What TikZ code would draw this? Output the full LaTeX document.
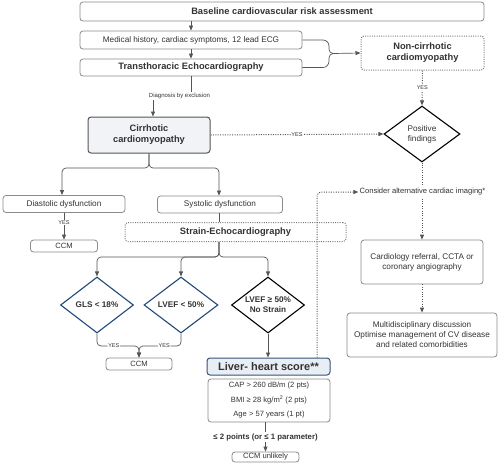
\documentclass[tikz,border=0pt]{standalone}
\usepackage{fontspec}
\setmainfont{Liberation Sans}
\setsansfont{Liberation Sans}
\usetikzlibrary{arrows.meta,shapes.geometric,calc}
\definecolor{txt}{HTML}{333333}
\definecolor{ln}{HTML}{555555}
\definecolor{bd}{HTML}{8A8A8A}
\definecolor{dk}{HTML}{1F4A78}
\definecolor{lfill}{HTML}{E9EEF5}
\definecolor{cfill}{HTML}{F1F3F7}
\tikzset{
  box/.style={draw=bd, line width=0.8pt, rounded corners=3pt, fill=white, text=txt, align=center, inner sep=1pt},
  dotbox/.style={draw=bd!90!black, line width=1pt, dash pattern=on 1pt off 1.3pt, rounded corners=3pt, fill=white, text=txt, align=center, inner sep=1pt},
  dia/.style={diamond, draw, line width=1.1pt, aspect=1.3, fill=white, text=txt, align=center, inner sep=0pt},
  conn/.style={draw=ln, line width=0.7pt, -{Triangle[width=4pt,length=5pt]}},
  plain/.style={draw=ln, line width=0.7pt},
  dconn/.style={draw=ln, line width=1pt, dash pattern=on 1pt off 1.4pt, -{Triangle[width=4pt,length=5pt]}},
  lbl/.style={fill=white, text=txt, inner sep=0.8pt, font=\fontsize{5.5}{6}\selectfont},
  reg/.style={font=\fontsize{8.2}{10}\selectfont},
  bld/.style={font=\fontsize{9.3}{11}\selectfont\bfseries},
  sm/.style={font=\fontsize{7.6}{9}\selectfont},
}
\begin{document}
\begin{tikzpicture}[x=1pt,y=-1pt]
\useasboundingbox (0,0) rectangle (500,464);
% nodes
\node[box, bld, minimum width=404pt, minimum height=19pt] (top) at (282,11.5) {Baseline cardiovascular risk assessment};
\node[box, reg, minimum width=222pt, minimum height=18pt] (med) at (191,40) {Medical history, cardiac symptoms, 12 lead ECG};
\node[box, bld, minimum width=222pt, minimum height=17pt] (tte) at (191,67.5) {Transthoracic Echocardiography};
\node[dotbox, bld, minimum width=123pt, minimum height=34pt] (noncirr) at (422.5,53) {Non-cirrhotic\\cardiomyopathy};
\node[box, bld, draw=ln, line width=1pt, fill=cfill, minimum width=122pt, minimum height=36pt] (cirr) at (149,135) {Cirrhotic\\cardiomyopathy};
\node[dia, reg, draw=black, minimum width=76pt, minimum height=56pt] (pos) at (422,134) {Positive\\findings};
\node[box, reg, minimum width=122pt, minimum height=17pt] (diast) at (64,204) {Diastolic dysfunction};
\node[box, reg, minimum width=125pt, minimum height=17pt] (syst) at (220,204.5) {Systolic dysfunction};
\node[box, sm, minimum width=67pt, minimum height=12pt] (ccma) at (64,246) {CCM};
\node[dotbox, bld, minimum width=221pt, minimum height=19pt] (strain) at (235.5,232) {Strain-Echocardiography};
\node[dia, font=\fontsize{8.2}{10}\selectfont\bfseries, draw=dk, minimum width=73pt, minimum height=56pt] (gls) at (97,305) {GLS < 18\%};
\node[dia, font=\fontsize{8.2}{10}\selectfont\bfseries, draw=dk, minimum width=74pt, minimum height=56pt] (lva) at (181,305) {LVEF < 50\%};
\node[dia, font=\fontsize{8.2}{10}\selectfont\bfseries, draw=black, minimum width=73pt, minimum height=56pt] (lvb) at (268,305) {LVEF ≥ 50\%\\No Strain};
\node[box, sm, minimum width=66pt, minimum height=12pt] (ccmb) at (139,364) {CCM};
\node[box, font=\fontsize{11}{12}\selectfont\bfseries, draw=dk!80!gray, line width=1pt, fill=lfill, minimum width=123pt, minimum height=17pt] (liver) at (268.5,366.5) {Liver- heart score**};
\node[box, font=\fontsize{7.6}{14.5}\selectfont, minimum width=122pt, minimum height=43pt] (list) at (269,400.5) {CAP > 260 dB/m (2 pts)\\BMI ≥ 28 kg/m\textsuperscript{2} (2 pts)\\Age > 57 years (1 pt)};
\node[box, sm, minimum width=67pt, minimum height=10pt] (ccmu) at (265.5,457) {CCM unlikely};
\node[box, reg, minimum width=122pt, minimum height=44pt] (cardio) at (422,262) {Cardiology referral, CCTA or\\coronary angiography};
\node[box, reg, minimum width=150pt, minimum height=44pt] (multi) at (422,335) {Multidisciplinary discussion\\Optimise management of CV disease\\and related comorbidities};
% connectors
\draw[conn] (top.south -| med) -- (med.north);
\draw[conn] (med) -- (tte);
\coordinate (br) at (333,53.5);
\draw[plain] (med.east) -- (323,40) to[out=0,in=90] (329,46) -- (329,49) to[out=-90,in=180] (br);
\draw[plain] (tte.east) -- (323,67.5) to[out=0,in=-90] (329,61) -- (329,58) to[out=90,in=180] (br);
\draw[conn] (br) -- (noncirr.west);
\draw[conn] (tte.south) -- (191,96) -- (153,96) -- (cirr.north -| 153,0);
\node[lbl, font=\fontsize{6}{7}\selectfont] (diag) at (179.5,96) {Diagnosis by exclusion};
\draw[dconn] (cirr.east) -- node[lbl]{YES} (pos.west);
\draw[dconn] (noncirr.south) -- node[lbl]{YES} (pos.north);
\draw[dconn] (pos.south) -- (cardio.north);
\node[fill=white, text=txt, sm, inner sep=1pt] (alt) at (422.5,192) {Consider alternative cardiac imaging*};
\draw[dconn] (cardio.south) -- (multi.north);
\draw[conn, rounded corners=4pt] (cirr.south) -- (149,168) -| (diast.north -| 62,0);
\draw[conn, rounded corners=4pt] (cirr.south) -- (149,168) -| (syst.north -| 219,0);
\draw[conn] (diast.south -| ccma) -- node[lbl, pos=0.35]{YES} (ccma.north);
\draw[plain] (syst.south -| 219,0) -- (strain.north -| 219,0);
\draw[conn, rounded corners=4pt] (strain.south -| 219,0) -- (219,257) -| (gls.north);
\draw[conn, rounded corners=4pt] (strain.south -| 219,0) -- (219,257) -| (lva.north);
\draw[conn, rounded corners=4pt] (strain.south -| 219,0) -- (219,257) -| (lvb.north);
\draw[conn, rounded corners=4pt] (gls.south) |- node[lbl, pos=0.7]{YES} (139,346) -- (ccmb.north);
\draw[conn, rounded corners=4pt] (lva.south) |- node[lbl, pos=0.7]{YES} (139,346) -- (ccmb.north);
\draw[conn] (lvb.south) -- (liver.north -| lvb);
\draw[dconn, rounded corners=4pt] (liver.north -| 317,0) |- (alt.west);
\draw[conn] (list.south -| ccmu) -- node[fill=white, text=txt, inner sep=1pt, font=\fontsize{7.8}{9}\selectfont\bfseries]{≤ 2 points (or ≤ 1 parameter)} (ccmu.north);
\end{tikzpicture}
\end{document}
